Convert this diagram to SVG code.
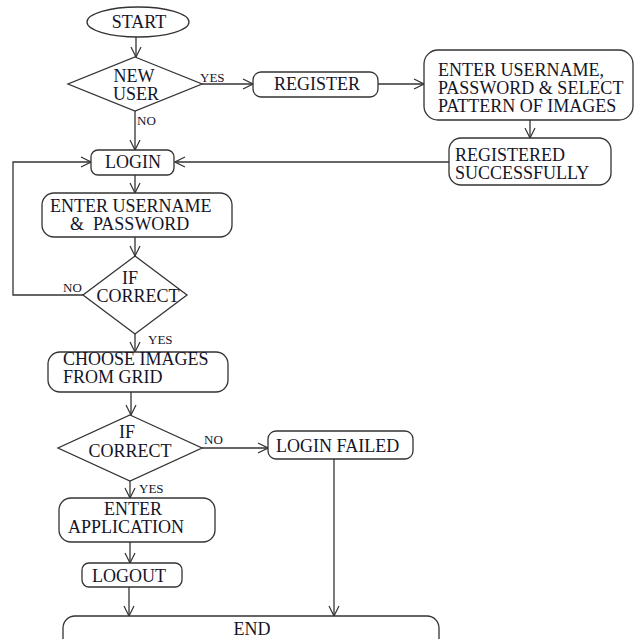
<svg xmlns="http://www.w3.org/2000/svg" width="634" height="639" viewBox="0 0 634 639">
<defs>
<marker id="arr" viewBox="0 0 12 12" refX="11" refY="6" markerWidth="12" markerHeight="12" markerUnits="userSpaceOnUse" orient="auto">
<path d="M1,1 L11,6 L1,11" fill="none" stroke="#333" stroke-width="1.2"/>
</marker>
<style>
.sh{fill:#fff;stroke:#333;stroke-width:1.3}
.t{font-family:"Liberation Serif","Times New Roman",serif;font-size:18px;fill:#141428}
.c{text-anchor:middle}
.l{font-family:"Liberation Serif","Times New Roman",serif;font-size:13px;fill:#141428}
.cn{fill:none;stroke:#333;stroke-width:1.3}
</style>
</defs>
<rect width="634" height="639" fill="#fff"/>
<g id="connectors">
<path class="cn" d="M136,37 L136,57" marker-end="url(#arr)"/>
<path class="cn" d="M202,84 L253,84" marker-end="url(#arr)"/>
<path class="cn" d="M378,84 L424,84" marker-end="url(#arr)"/>
<path class="cn" d="M530,120 L530,138" marker-end="url(#arr)"/>
<path class="cn" d="M449,162 L175,162" marker-end="url(#arr)"/>
<path class="cn" d="M135,111 L135,150" marker-end="url(#arr)"/>
<path class="cn" d="M83,295 L13,295 L13,162 L91,162" marker-end="url(#arr)"/>
<path class="cn" d="M135,175 L135,193" marker-end="url(#arr)"/>
<path class="cn" d="M135,237 L135,256" marker-end="url(#arr)"/>
<path class="cn" d="M135,334 L135,352" marker-end="url(#arr)"/>
<path class="cn" d="M131,392 L131,415" marker-end="url(#arr)"/>
<path class="cn" d="M202,448 L268,448" marker-end="url(#arr)"/>
<path class="cn" d="M334,459 L334,616" marker-end="url(#arr)"/>
<path class="cn" d="M130,481 L130,498" marker-end="url(#arr)"/>
<path class="cn" d="M130,542 L130,563" marker-end="url(#arr)"/>
<path class="cn" d="M129,587 L129,616" marker-end="url(#arr)"/>
<text class="l" x="200" y="82">YES</text>
<text class="l" x="137" y="125">NO</text>
<text class="l" x="63" y="292">NO</text>
<text class="l" x="148" y="344">YES</text>
<text class="l" x="204" y="444">NO</text>
<text class="l" x="139" y="493">YES</text>
</g>
<g id="start">
<ellipse class="sh" cx="138" cy="22" rx="51" ry="15"/>
<text class="t c" x="139" y="28">START</text>
</g>
<g id="new-user">
<polygon class="sh" points="135,57 202,84 135,111 68,84"/>
<text class="t c" x="134" y="82">NEW</text>
<text class="t c" x="136" y="100">USER</text>
</g>
<g id="register">
<rect class="sh" x="253" y="72" width="125" height="25" rx="8"/>
<text class="t c" x="317" y="90">REGISTER</text>
</g>
<g id="enter-reg">
<rect class="sh" x="424" y="50" width="209" height="70" rx="14"/>
<text class="t" x="438" y="76">ENTER USERNAME,</text>
<text class="t" x="438" y="94">PASSWORD &amp; SELECT</text>
<text class="t" x="438" y="112">PATTERN OF IMAGES</text>
</g>
<g id="registered">
<rect class="sh" x="449" y="138" width="162" height="47" rx="12"/>
<text class="t" x="455" y="161">REGISTERED</text>
<text class="t" x="455" y="179">SUCCESSFULLY</text>
</g>
<g id="login">
<rect class="sh" x="91" y="150" width="83" height="25" rx="7"/>
<text class="t c" x="133" y="168">LOGIN</text>
</g>
<g id="enter-cred">
<rect class="sh" x="42" y="193" width="190" height="44" rx="12"/>
<text class="t" x="50" y="212">ENTER USERNAME</text>
<text class="t" x="70" y="230" xml:space="preserve">&amp;  PASSWORD</text>
</g>
<g id="if-correct-1">
<polygon class="sh" points="135,256 187,295 135,334 83,295"/>
<text class="t c" x="130" y="284">IF</text>
<text class="t c" x="138" y="302">CORRECT</text>
</g>
<g id="choose">
<rect class="sh" x="48" y="352" width="180" height="40" rx="12"/>
<text class="t" x="63" y="365">CHOOSE IMAGES</text>
<text class="t" x="63" y="383">FROM GRID</text>
</g>
<g id="if-correct-2">
<polygon class="sh" points="130,415 202,448 130,481 58,448"/>
<text class="t c" x="127" y="438">IF</text>
<text class="t c" x="130" y="457">CORRECT</text>
</g>
<g id="login-failed">
<rect class="sh" x="268" y="431" width="145" height="28" rx="8"/>
<text class="t" x="276" y="452">LOGIN FAILED</text>
</g>
<g id="enter-app">
<rect class="sh" x="59" y="498" width="156" height="44" rx="12"/>
<text class="t c" x="133" y="515">ENTER</text>
<text class="t" x="68" y="533">APPLICATION</text>
</g>
<g id="logout">
<rect class="sh" x="82" y="563" width="100" height="24" rx="7"/>
<text class="t c" x="129" y="582">LOGOUT</text>
</g>
<g id="end">
<rect class="sh" x="63" y="616" width="376" height="50" rx="12"/>
<text class="t c" x="252" y="635">END</text>
</g>
</svg>
